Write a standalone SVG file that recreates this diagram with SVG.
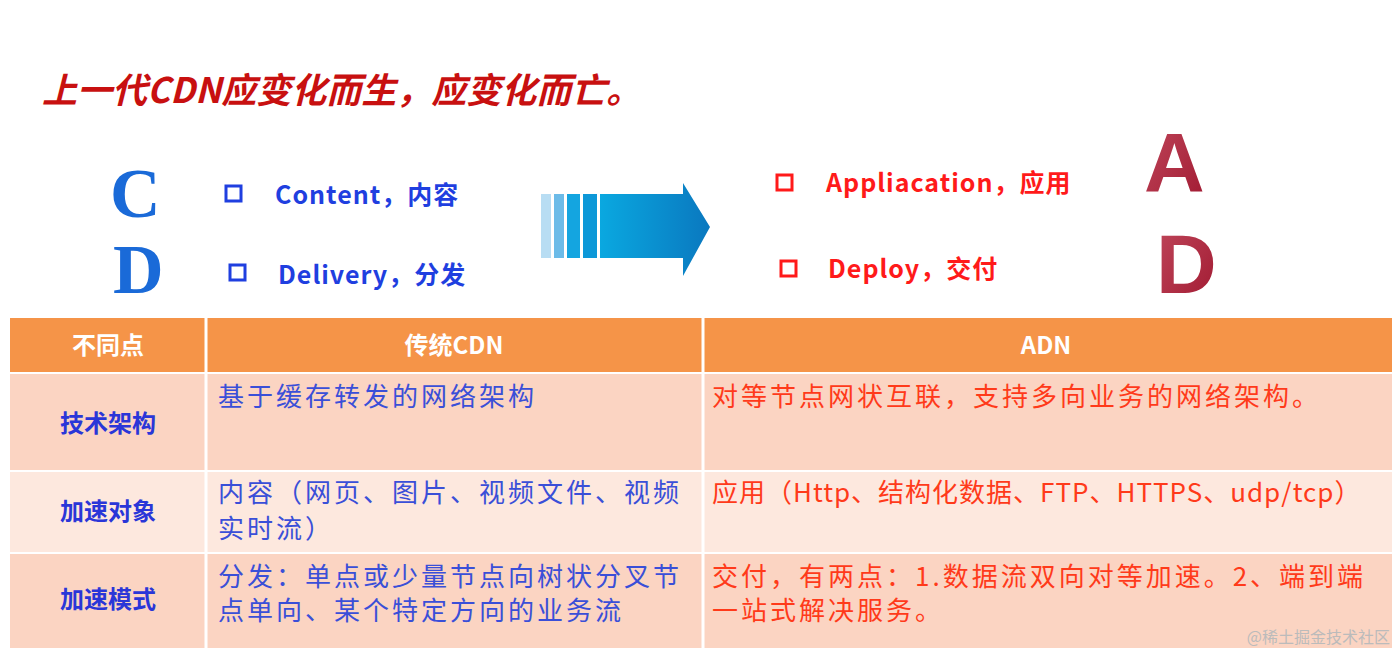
<svg xmlns="http://www.w3.org/2000/svg" width="1396" height="654" viewBox="0 0 1396 654">
<defs>
<style>
.t{font-family:"Noto Sans CJK SC","Noto Sans",sans-serif}
.b{fill:#1f3fe0;font-weight:bold;font-size:25px;letter-spacing:1px}
.r{fill:#ff1a1a;font-weight:bold;font-size:25px;letter-spacing:1px}
.cb{fill:#3a4fd8;font-size:26px;letter-spacing:3px}
.cr{fill:#ff3a1a;font-size:26px;letter-spacing:3px}
.h{fill:#fff;font-size:24px;font-weight:bold}
.rowh{fill:#2a36d8;font-size:24px;font-weight:bold}
.sq{fill:none;stroke-width:3}
</style>
<linearGradient id="ag" x1="0" x2="1"><stop offset="0" stop-color="#0aa8e0"/><stop offset="1" stop-color="#0a78bf"/></linearGradient>
<linearGradient id="lr" x1="0" x2="1" y1="0" y2="1"><stop offset="0" stop-color="#c0485c"/><stop offset="1" stop-color="#a01830"/></linearGradient>
</defs>
<rect width="1396" height="654" fill="#fff"/>
<text class="t" x="42" y="103" font-size="35" font-weight="bold" font-style="italic" fill="#c81010">上一代CDN应变化而生，应变化而亡。</text>
<g id="cd">
<text x="110" y="217" font-family="Liberation Serif,serif" font-weight="bold" font-size="70" fill="#1a6ad8">C</text>
<text x="113" y="293" font-family="Liberation Serif,serif" font-weight="bold" font-size="70" fill="#1a6ad8">D</text>
</g>
<g id="left-items">
<rect class="sq" x="226" y="186" width="15" height="15" stroke="#1f3fe0"/>
<text class="t b" x="275" y="204">Content，内容</text>
<rect class="sq" x="230" y="265" width="15" height="15" stroke="#1f3fe0"/>
<text class="t b" x="278" y="284">Delivery，分发</text>
</g>
<g id="arrow">
<rect x="541" y="194" width="10" height="64" fill="#b8ddf3"/>
<rect x="554" y="194" width="10" height="64" fill="#6cbbe8"/>
<rect x="567" y="194" width="13" height="64" fill="#14a5e0"/>
<rect x="583" y="194" width="14" height="64" fill="#0d98d8"/>
<path d="M600 194 H683 V183 L710 227 L683 276 V258 H600 Z" fill="url(#ag)"/>
</g>
<g id="right-items">
<rect class="sq" x="777" y="175" width="15" height="15" stroke="#ff1a1a"/>
<text class="t r" x="826" y="192">Appliacation，应用</text>
<rect class="sq" x="781" y="261" width="15" height="15" stroke="#ff1a1a"/>
<text class="t r" x="828" y="278">Deploy，交付</text>
</g>
<g id="ad">
<text x="1144" y="192" font-family="Liberation Sans,sans-serif" font-weight="bold" font-size="84" fill="url(#lr)">A</text>
<text x="1156" y="293" font-family="Liberation Sans,sans-serif" font-weight="bold" font-size="84" fill="url(#lr)">D</text>
</g>
<g id="table">
<rect x="10" y="318" width="1382" height="54" fill="#f59448"/>
<rect x="10" y="374" width="1382" height="96" fill="#fbd4c2"/>
<rect x="10" y="472" width="1382" height="80" fill="#fde8de"/>
<rect x="10" y="554" width="1382" height="94" fill="#fbd4c2"/>
<line x1="206" y1="318" x2="206" y2="648" stroke="#fff" stroke-width="3"/>
<line x1="703" y1="318" x2="703" y2="648" stroke="#fff" stroke-width="3"/>
<text class="t h" x="108" y="354" text-anchor="middle">不同点</text>
<text class="t h" x="454" y="354" text-anchor="middle">传统CDN</text>
<text class="t h" x="1046" y="354" text-anchor="middle">ADN</text>
<text class="t rowh" x="108" y="432" text-anchor="middle">技术架构</text>
<text class="t rowh" x="108" y="520" text-anchor="middle">加速对象</text>
<text class="t rowh" x="108" y="608" text-anchor="middle">加速模式</text>
<text class="t cb" x="218" y="406">基于缓存转发的网络架构</text>
<text class="t cb" x="218" y="502">内容（网页、图片、视频文件、视频</text>
<text class="t cb" x="218" y="538">实时流）</text>
<text class="t cb" x="218" y="586">分发：单点或少量节点向树状分叉节</text>
<text class="t cb" x="218" y="620">点单向、某个特定方向的业务流</text>
<text class="t cr" x="712" y="406">对等节点网状互联，支持多向业务的网络架构。</text>
<text class="t cr" x="712" y="502" style="letter-spacing:1px" font-size="25">应用（Http、结构化数据、FTP、HTTPS、udp/tcp）</text>
<text class="t cr" x="712" y="586">交付，有两点：1.数据流双向对等加速。2、端到端</text>
<text class="t cr" x="712" y="620">一站式解决服务。</text>
</g>
<text class="t" x="1390" y="643" text-anchor="end" font-size="16" fill="#bbbbbb">@稀土掘金技术社区</text>
</svg>
